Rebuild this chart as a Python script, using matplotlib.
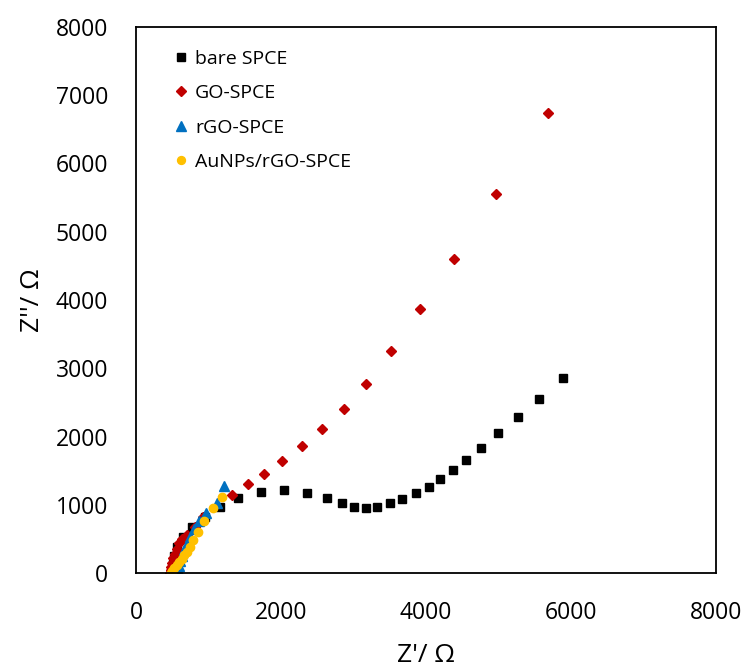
import matplotlib
matplotlib.use("Agg")
import matplotlib.pyplot as plt

plt.rcParams['font.family'] = ['Open Sans', 'DejaVu Sans']

# bare SPCE
bare_x = [480, 495, 510, 530, 566, 648, 772, 952, 1159, 1407, 1724, 2041, 2359, 2634,
          2841, 3007, 3172, 3324, 3503, 3669, 3862, 4041, 4193, 4372, 4552, 4759,
          4993, 5269, 5559, 5890]
bare_y = [0, 60, 140, 250, 381, 527, 674, 820, 967, 1099, 1187, 1216, 1172, 1099,
          1026, 967, 952, 967, 1026, 1084, 1172, 1260, 1377, 1509, 1656, 1832,
          2051, 2286, 2549, 2857]

# GO-SPCE
go_x = [470, 478, 488, 500, 515, 535, 560, 595, 640, 703, 814, 924, 1324, 1545,
        1766, 2014, 2290, 2566, 2869, 3172, 3517, 3917, 4386, 4966, 5683]
go_y = [0, 40, 90, 150, 215, 285, 360, 440, 500, 557, 674, 820, 1143, 1304,
        1450, 1641, 1861, 2110, 2403, 2769, 3253, 3868, 4601, 5553, 6740]

# rGO-SPCE
rgo_x = [560, 575, 590, 607, 630, 660, 700, 745, 800, 870, 960, 1117, 1214]
rgo_y = [0, 50, 110, 175, 250, 340, 430, 530, 640, 760, 880, 1026, 1275]

# AuNPs/rGO-SPCE
au_x = [480, 500, 530, 565, 600, 634, 668, 703, 740, 786, 855, 938, 1062, 1186]
au_y = [0, 30, 70, 115, 160, 210, 260, 308, 380, 483, 601, 762, 952, 1114]

fig = plt.figure(figsize=(7.47, 6.68), dpi=100)
ax = fig.add_axes([0.182, 0.142, 0.776, 0.818])

ax.plot(bare_x, bare_y, 's', color='black', ms=6.3, ls='none', label='bare SPCE')
ax.plot(go_x, go_y, 'D', color='#C00000', ms=5.5, ls='none', label='GO-SPCE')
ax.plot(rgo_x, rgo_y, '^', color='#0070C0', ms=7, ls='none', label='rGO-SPCE')
ax.plot(au_x, au_y, 'o', color='#FFC000', ms=6, ls='none', label='AuNPs/rGO-SPCE')

ax.set_xlim(0, 8000)
ax.set_ylim(0, 8000)
ax.set_xticks(range(0, 8001, 2000))
ax.set_yticks(range(0, 8001, 1000))
ax.tick_params(axis='y', length=0, labelsize=16.5, pad=20)
ax.tick_params(axis='x', length=0, labelsize=16.5, pad=20)
for s in ax.spines.values():
    s.set_linewidth(1.3)

ax.set_xlabel("Z'/ Ω", fontsize=19, labelpad=13)
ax.set_ylabel("Z''/ Ω", fontsize=19, labelpad=8)

leg = ax.legend(loc='upper left', bbox_to_anchor=(0.03, 0.99), frameon=False,
                fontsize=14, handletextpad=0.25, labelspacing=0.85,
                handlelength=1.0, markerscale=0.95)

fig.savefig('out.png', dpi=100)
